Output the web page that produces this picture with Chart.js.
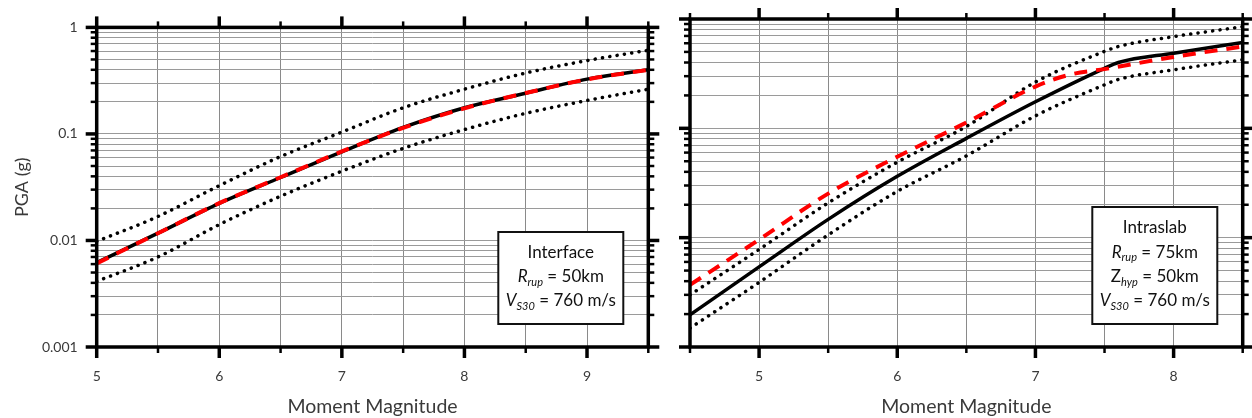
<!DOCTYPE html>
<html><head><meta charset="utf-8">
<script src="https://cdn.jsdelivr.net/npm/chart.js@4.4.0/dist/chart.umd.min.js"></script>
<style>
html,body{margin:0;padding:0;background:#fff;}
#wrap{position:relative;width:1252px;height:418px;overflow:hidden;background:#fff;}
canvas{position:absolute;top:0;}
</style></head><body>
<div id="wrap">
<canvas id="c1" width="660" height="418" style="left:0"></canvas>
<canvas id="c2" width="592" height="418" style="left:660px"></canvas>
</div>
<script>
// ---------- data ----------
const magInterface      = [5, 5.5, 6, 6.5, 7, 7.5, 8, 8.5, 9, 9.5];
const interfaceMedian   = [0.0062, 0.0117, 0.0223, 0.039, 0.068, 0.115, 0.176, 0.241, 0.327, 0.40];
const interfaceUpper    = [0.0098, 0.0168, 0.0327, 0.0613, 0.104, 0.176, 0.263, 0.373, 0.488, 0.61];
const interfaceLower    = [0.00413, 0.0070, 0.0141, 0.026, 0.0447, 0.0732, 0.110, 0.156, 0.206, 0.263];
const interfaceAlt      = [0.0061, 0.0117, 0.0224, 0.0392, 0.0685, 0.114, 0.174, 0.242, 0.325, 0.40];

const magIntraslab      = [4.5, 5, 5.5, 6, 6.5, 7, 7.5, 7.6, 8, 8.5];
const intraslabMedian   = [0.00197, 0.0054, 0.0147, 0.0364, 0.081, 0.175, 0.354, 0.40, 0.487, 0.61];
const intraslabUpper    = [0.0030, 0.0078, 0.0208, 0.049, 0.104, 0.265, 0.505, 0.56, 0.69, 0.85];
const intraslabLower    = [0.00149, 0.0039, 0.0106, 0.0265, 0.056, 0.13, 0.25, 0.28, 0.343, 0.424];
const magIntraslabAlt   = [4.5, 5, 5.5, 6, 6.5, 7, 7.25, 7.5, 8, 8.5];
const intraslabAlt      = [0.0037, 0.0096, 0.0253, 0.055, 0.113, 0.241, 0.31, 0.348, 0.45, 0.56];

const yDecades     = [0.001, 0.01, 0.1];
const yMultipliers = [1, 2, 3, 4, 5, 6, 7, 8, 9];
const yTop         = 1;
const yTickLabels  = {0.001: '0.001', 0.01: '0.01', 0.1: '0.1', 1: '1'};

const xTitle = 'Moment Magnitude';
const yTitle = 'PGA (g)';
const legendInterface = [
  [{t: 'Interface'}],
  [{t: 'R', i: true}, {t: 'rup', i: true, sub: true}, {t: ' = 50km'}],
  [{t: 'V', i: true}, {t: 'S30', i: true, sub: true}, {t: ' = 760 m/s'}]
];
const legendIntraslab = [
  [{t: 'Intraslab'}],
  [{t: 'R', i: true}, {t: 'rup', i: true, sub: true}, {t: ' = 75km'}],
  [{t: 'Z'}, {t: 'hyp', i: true, sub: true}, {t: ' = 50km'}],
  [{t: 'V', i: true}, {t: 'S30', i: true, sub: true}, {t: ' = 760 m/s'}]
];

// ---------- helpers ----------
const FONT = 'Lato, "Open Sans", sans-serif';
const TXT = '#3a3a3a';
const yGridValues = [];
yDecades.forEach(d => yMultipliers.forEach(m => yGridValues.push(+(d * m).toPrecision(6))));
yGridValues.push(yTop);

const pts = (xs, ys) => xs.map((x, k) => ({x, y: ys[k]}));
const isInt = v => Math.abs(v - Math.round(v)) < 1e-6;
const isDecade = v => Math.abs(Math.log10(v) - Math.round(Math.log10(v))) < 1e-6;

function drawSegments(ctx, segs, cx, cy, size) {
  const fontOf = s => (s.i ? 'italic ' : '') + (s.sub ? Math.round(size * 0.66) : size) + 'px ' + FONT;
  let w = 0;
  segs.forEach(s => { ctx.font = fontOf(s); w += ctx.measureText(s.t).width; });
  let x = cx - w / 2;
  ctx.textBaseline = 'middle';
  ctx.textAlign = 'left';
  segs.forEach(s => {
    ctx.font = fontOf(s);
    ctx.fillText(s.t, x, cy + (s.sub ? size * 0.33 : 0));
    x += ctx.measureText(s.t).width;
  });
}

const framePlugin = {
  id: 'frame',
  afterDatasetsDraw(chart, args, opts) {
    const {ctx, chartArea: a, scales: {x, y}} = chart;
    ctx.save();
    ctx.strokeStyle = '#000';
    ctx.lineCap = 'butt';
    const seg = (x1, y1, x2, y2, w) => { ctx.lineWidth = w; ctx.beginPath(); ctx.moveTo(x1, y1); ctx.lineTo(x2, y2); ctx.stroke(); };
    x.ticks.forEach(t => {
      const px = x.getPixelForValue(t.value);
      const major = isInt(t.value);
      const L = major ? 11 : 6, w = major ? 3.5 : 2.5;
      seg(px, a.bottom, px, a.bottom + L, w);
      seg(px, a.top, px, a.top - L, w);
    });
    y.ticks.forEach(t => {
      const py = y.getPixelForValue(t.value);
      const major = isDecade(t.value);
      const L = major ? 11 : 6, w = major ? 3.5 : 2.5;
      seg(a.left - L, py, a.left, py, w);
      seg(a.right, py, a.right + L, py, w);
    });
    ctx.lineWidth = 3.5;
    ctx.strokeRect(a.left, a.top, a.right - a.left, a.bottom - a.top);
    // annotation box
    const b = opts.box;
    const bx = a.right - b.right - b.w, by = a.bottom - b.bottom - b.h;
    ctx.fillStyle = '#fff';
    ctx.fillRect(bx, by, b.w, b.h);
    ctx.lineWidth = 2;
    ctx.strokeStyle = '#111';
    ctx.strokeRect(bx, by, b.w, b.h);
    ctx.fillStyle = '#111';
    b.lines.forEach((ln, k) => drawSegments(ctx, ln, bx + b.w / 2, by + b.first + k * b.step, b.size));
    ctx.restore();
  }
};

function makeChart(id, cfg) {
  const datasets = [
    {data: pts(cfg.magAlt, cfg.alt), borderColor: '#ff0000', borderWidth: 4, borderDash: [13, 9], order: 0},
    {data: pts(cfg.mag, cfg.median), borderColor: '#000', borderWidth: 3.5, order: 1},
    {data: pts(cfg.mag, cfg.upper), borderColor: '#000', borderWidth: 3.5, borderDash: [0.1, 7.3], borderCapStyle: 'round', order: 2},
    {data: pts(cfg.mag, cfg.lower), borderColor: '#000', borderWidth: 3.5, borderDash: [0.1, 7.3], borderCapStyle: 'round', order: 2}
  ].map(d => Object.assign({pointRadius: 0, fill: false, cubicInterpolationMode: 'monotone'}, d));

  const chart = new Chart(document.getElementById(id), {
    type: 'line',
    data: {datasets},
    options: {
      responsive: false,
      animation: false,
      events: [],
      layout: {padding: {top: cfg.area.top, right: cfg.padRight, left: 0, bottom: 0}},
      plugins: {legend: {display: false}, tooltip: {enabled: false}, frame: {box: cfg.box}},
      scales: {
        x: {
          type: 'linear', min: cfg.xMin, max: cfg.xMax,
          grid: {color: '#8a8a8a', lineWidth: 1, drawTicks: true, tickLength: 21, tickColor: 'rgba(0,0,0,0)'},
          border: {display: false},
          ticks: {
            stepSize: 0.5, autoSkip: false, maxRotation: 0, padding: 0,
            color: TXT, font: {family: FONT, size: 14},
            callback: v => isInt(v) ? String(Math.round(v)) : ''
          },
          title: {display: true, text: xTitle, color: TXT, font: {family: FONT, size: 19.5}, padding: {top: 0, bottom: 0}},
          afterFit: s => { s.height = 418 - cfg.area.bottom; }
        },
        y: {
          type: 'logarithmic', min: 0.001, max: 1,
          grid: {color: '#9a9a9a', lineWidth: 1, drawTicks: false},
          border: {display: false},
          afterBuildTicks: s => { s.ticks = yGridValues.map(v => ({value: v})); },
          ticks: {
            display: cfg.yLabels, autoSkip: false, padding: 19,
            color: TXT, font: {family: FONT, size: 14},
            callback: v => yTickLabels[v] !== undefined && isDecade(v) ? yTickLabels[v] : ''
          },
          title: {display: cfg.yLabels, text: yTitle, color: TXT, font: {family: FONT, size: 18}, padding: {top: 11, bottom: 0}},
          afterFit: s => { s.width = cfg.area.left; }
        }
      }
    },
    plugins: [framePlugin]
  });
  return chart;
}

makeChart('c1', {
  mag: magInterface, median: interfaceMedian, upper: interfaceUpper, lower: interfaceLower,
  magAlt: magInterface, alt: interfaceAlt,
  xMin: 5, xMax: 9.5, yLabels: true, padRight: 11.7,
  area: {left: 96.7, top: 19, bottom: 347},
  box: {w: 125, h: 92, right: 25, bottom: 23, first: 21, step: 24, size: 17, lines: legendInterface}
});
makeChart('c2', {
  mag: magIntraslab, median: intraslabMedian, upper: intraslabUpper, lower: intraslabLower,
  magAlt: magIntraslabAlt, alt: intraslabAlt,
  xMin: 4.5, xMax: 8.5, yLabels: false, padRight: 9.3,
  area: {left: 30, top: 19, bottom: 347},
  box: {w: 125, h: 117, right: 25.4, bottom: 23, first: 21, step: 24.3, size: 17, lines: legendIntraslab}
});
</script>
</body></html>
